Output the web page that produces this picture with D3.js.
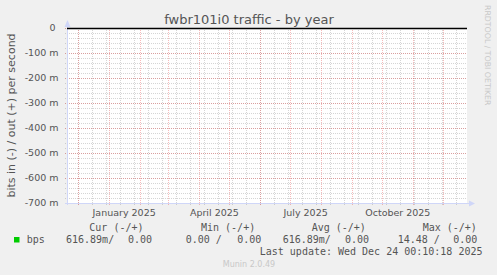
<!DOCTYPE html>
<html>
<head>
<meta charset="utf-8">
<script src="https://cdn.jsdelivr.net/npm/d3@7"></script>
<style>
  body { margin: 0; background: #f0f0f0; }
  svg { display: block; }
  text { font-family: "DejaVu Sans", sans-serif; fill: #555; }
  .mono { font-family: "DejaVu Sans Mono", monospace; font-size: 10px; white-space: pre; }
</style>
</head>
<body>
<div id="chart"></div>
<script>
// Chart data
var title = "fwbr101i0 traffic - by year";
var yAxisTitle = "bits in (-) / out (+) per second";
var timeStart = new Date(Date.UTC(2024, 10, 20, 12, 0, 0));
var timeEnd = new Date(Date.UTC(2025, 11, 24, 12, 0, 0));
var yDomain = [-0.7, 0];
var labelMonths = ["2025-01-01", "2025-04-01", "2025-07-01", "2025-10-01"];
var seriesName = "bps";
var seriesColor = "#00cc00";
var legendHeaders = ["Cur (-/+)", "Min (-/+)", "Avg (-/+)", "Max (-/+)"];
var inValues = ["616.89m/", "0.00 /", "616.89m/", "14.48 /"];
var outValues = ["0.00", "0.00", "0.00", "0.00"];
var lastUpdate = "Wed Dec 24 00:10:18 2025";
var version = "Munin 2.0.49";

// Dimensions
var width = 497;
var height = 275;
var plot = { left: 67, right: 467, top: 28, bottom: 203 };

var axisColor = "#cfd6f8";
var minorColor = "rgba(128,128,128,0.33)";
var majorColor = "rgba(230,60,60,0.35)";

var svg = d3
  .select("#chart")
  .append("svg")
  .attr("width", width)
  .attr("height", height);

svg.append("rect")
  .attr("width", width)
  .attr("height", height)
  .attr("fill", "#f0f0f0");

var x = d3.scaleUtc().domain([timeStart, timeEnd]).range([plot.left, plot.right]);
var y = d3.scaleLinear().domain(yDomain).range([plot.bottom, plot.top]);

// Canvas
svg.append("rect")
  .attr("x", plot.left)
  .attr("y", plot.top)
  .attr("width", plot.right - plot.left)
  .attr("height", plot.bottom - plot.top)
  .attr("fill", "#ffffff");

// Horizontal grid: minor every 20 m, major every 100 m
var minorY = y.ticks(35);
var majorY = y.ticks(7);

svg.selectAll("hminor")
  .data(minorY)
  .enter()
  .append("line")
  .attr("x1", plot.left - 2)
  .attr("x2", plot.right)
  .attr("y1", function (d) { return Math.round(y(d)) + 0.5; })
  .attr("y2", function (d) { return Math.round(y(d)) + 0.5; })
  .attr("stroke", minorColor)
  .attr("stroke-dasharray", "1,1");

// Vertical grid: minor every other Sunday, major on month starts
var minorX = d3.utcSunday.range(new Date(Date.UTC(2024, 11, 1)), timeEnd, 2);
var majorX = d3.utcMonth.range(timeStart, timeEnd);

svg.selectAll("vminor")
  .data(minorX)
  .enter()
  .append("line")
  .attr("x1", function (d) { return Math.round(x(d)) + 0.5; })
  .attr("x2", function (d) { return Math.round(x(d)) + 0.5; })
  .attr("y1", plot.top)
  .attr("y2", plot.bottom + 2)
  .attr("stroke", minorColor)
  .attr("stroke-dasharray", "1,1");

svg.selectAll("hmajor")
  .data(majorY)
  .enter()
  .append("line")
  .attr("x1", plot.left - 2)
  .attr("x2", plot.right)
  .attr("y1", function (d) { return Math.round(y(d)) + 0.5; })
  .attr("y2", function (d) { return Math.round(y(d)) + 0.5; })
  .attr("stroke", majorColor)
  .attr("stroke-dasharray", "1,1");

svg.selectAll("vmajor")
  .data(majorX)
  .enter()
  .append("line")
  .attr("x1", function (d) { return Math.round(x(d)) + 0.5; })
  .attr("x2", function (d) { return Math.round(x(d)) + 0.5; })
  .attr("y1", plot.top)
  .attr("y2", plot.bottom + 3)
  .attr("stroke", majorColor)
  .attr("stroke-dasharray", "1,1");

// Axes
svg.append("line")
  .attr("x1", plot.left - 2)
  .attr("x2", plot.right + 3)
  .attr("y1", plot.bottom + 0.5)
  .attr("y2", plot.bottom + 0.5)
  .attr("stroke", axisColor);

svg.append("line")
  .attr("x1", plot.left + 0.5)
  .attr("x2", plot.left + 0.5)
  .attr("y1", plot.bottom + 2)
  .attr("y2", plot.top - 3)
  .attr("stroke", axisColor);

svg.append("path")
  .attr("d", "M" + (plot.right + 2) + "," + (plot.bottom - 2.5) +
    "L" + (plot.right + 8) + "," + (plot.bottom + 0.5) +
    "L" + (plot.right + 2) + "," + (plot.bottom + 3.5) + "Z")
  .attr("fill", axisColor);

svg.append("path")
  .attr("d", "M" + (plot.left - 2.5) + "," + (plot.top - 1) +
    "L" + (plot.left + 0.5) + "," + (plot.top - 8) +
    "L" + (plot.left + 3.5) + "," + (plot.top - 1) + "Z")
  .attr("fill", axisColor);

// Zero line
svg.append("line")
  .attr("x1", plot.left)
  .attr("x2", plot.right)
  .attr("y1", y(0) + 0.5)
  .attr("y2", y(0) + 0.5)
  .attr("stroke", "#000000")
  .attr("stroke-width", 1.5);

// Y tick labels
svg.selectAll("ylabels")
  .data(majorY)
  .enter()
  .append("text")
  .attr("x", 58.5)
  .attr("y", function (d) { return y(d); })
  .attr("dy", "0.36em")
  .attr("text-anchor", "end")
  .style("font-size", "9.5px")
  .text(function (d) {
    return d === 0 ? "0\u00a0" : Math.round(d * 1000) + " m";
  });

// X labels, centred in the middle of the month
svg.selectAll("xlabels")
  .data(labelMonths)
  .enter()
  .append("text")
  .attr("x", function (d) {
    var t = new Date(d + "T00:00:00Z");
    return x(new Date(+t + 15.5 * 864e5));
  })
  .attr("y", 216)
  .attr("text-anchor", "middle")
  .style("font-size", "9.5px")
  .text(function (d) {
    return d3.utcFormat("%B %Y")(new Date(d + "T00:00:00Z"));
  });

// Title
svg.append("text")
  .attr("x", 249)
  .attr("y", 23.5)
  .attr("text-anchor", "middle")
  .style("font-size", "13px")
  .text(title);

// Y axis title
svg.append("text")
  .attr("transform", "translate(15," + (plot.top + plot.bottom) / 2 + ") rotate(-90)")
  .attr("text-anchor", "middle")
  .style("font-size", "11px")
  .text(yAxisTitle);

// Side watermark
svg.append("text")
  .attr("transform", "translate(485,5) rotate(90)")
  .style("font-size", "7.8px")
  .style("fill", "#c8c8c8")
  .text("RRDTOOL / TOBI OETIKER");

// Legend
var headerX = [89.3, 201, 311.7, 422.7];
var inX = [66, 185.7, 282.7, 397.7];
var outX = [128, 237.3, 345, 453.3];

svg.selectAll("headers")
  .data(legendHeaders)
  .enter()
  .append("text")
  .attr("class", "mono")
  .attr("x", function (d, i) { return headerX[i]; })
  .attr("y", 231)
  .text(function (d) { return d; });

svg.append("rect")
  .attr("x", 14)
  .attr("y", 237)
  .attr("width", 5.5)
  .attr("height", 5.5)
  .attr("fill", seriesColor);

svg.append("text")
  .attr("class", "mono")
  .attr("x", 26.7)
  .attr("y", 243)
  .text(seriesName);

svg.selectAll("invals")
  .data(inValues)
  .enter()
  .append("text")
  .attr("class", "mono")
  .attr("x", function (d, i) { return inX[i]; })
  .attr("y", 243)
  .text(function (d) { return d; });

svg.selectAll("outvals")
  .data(outValues)
  .enter()
  .append("text")
  .attr("class", "mono")
  .attr("x", function (d, i) { return outX[i]; })
  .attr("y", 243)
  .text(function (d) { return d; });

svg.append("text")
  .attr("class", "mono")
  .attr("x", 482.5)
  .attr("y", 255)
  .attr("text-anchor", "end")
  .text("Last update: " + lastUpdate);

svg.append("text")
  .attr("x", 249)
  .attr("y", 267)
  .attr("text-anchor", "middle")
  .style("font-size", "8px")
  .style("fill", "#c8c8c8")
  .text(version);
</script>
</body>
</html>
